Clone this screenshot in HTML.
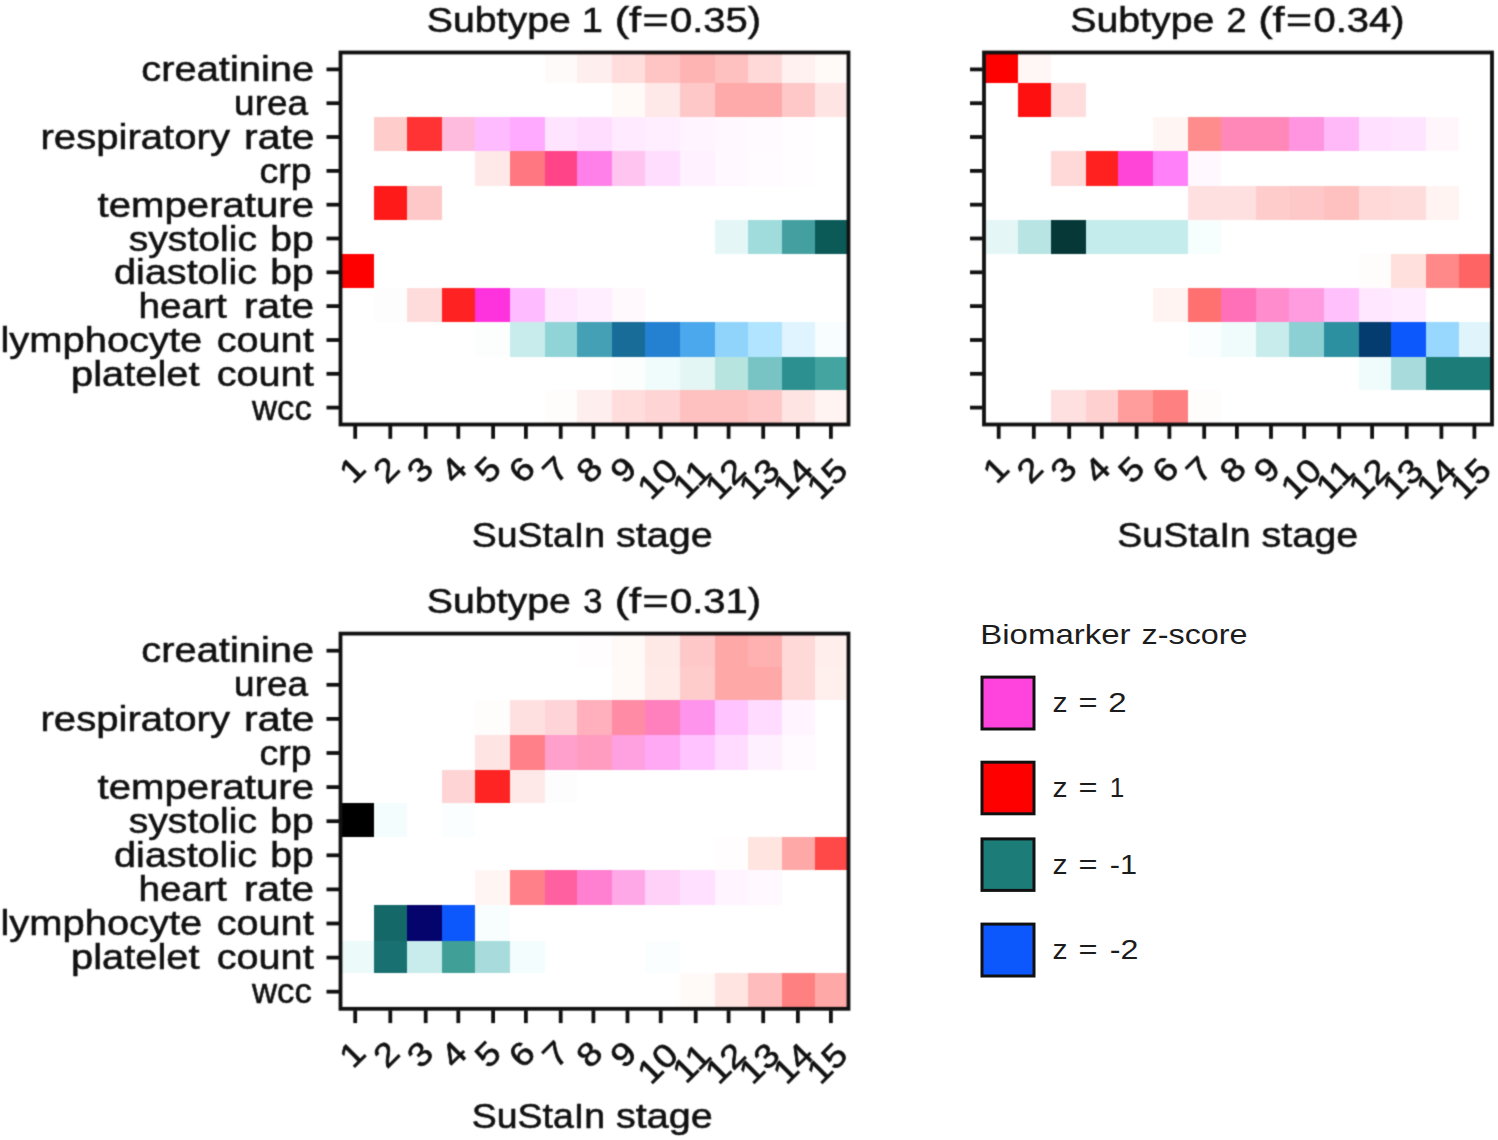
<!DOCTYPE html>
<html><head><meta charset="utf-8"><title>SuStaIn subtypes</title>
<style>
html,body{margin:0;padding:0;background:#fff;}
body{width:1498px;height:1140px;overflow:hidden;}
svg{display:block;}
svg text{font-family:"Liberation Sans",sans-serif;fill:#111;white-space:pre;}
svg text.m{stroke:#111;stroke-width:0.55px;}
svg text.t{stroke:#111;stroke-width:0.7px;}
svg text.l{fill:#1c1c1c;}
</style></head><body>
<svg width="1498" height="1140" viewBox="0 0 1498 1140">
<defs><filter id="soft" x="0" y="0" width="1498" height="1140" filterUnits="userSpaceOnUse"><feConvolveMatrix order="3" kernelMatrix="0.0324 0.1152 0.0324 0.1152 0.4096 0.1152 0.0324 0.1152 0.0324" divisor="1" edgeMode="duplicate" preserveAlpha="true" color-interpolation-filters="sRGB"/></filter></defs>
<rect width="1498" height="1140" fill="#fff"/>
<g filter="url(#soft)">
<rect width="1498" height="1140" fill="#fff"/>
<g shape-rendering="crispEdges">
<rect x="544.5" y="52.5" width="32.5" height="30.5" fill="#fffafa"/>
<rect x="577.0" y="52.5" width="35.0" height="30.5" fill="#ffeeee"/>
<rect x="612.0" y="52.5" width="33.0" height="30.5" fill="#ffdddd"/>
<rect x="645.0" y="52.5" width="35.0" height="30.5" fill="#ffc4c4"/>
<rect x="680.0" y="52.5" width="35.0" height="30.5" fill="#ffb4b4"/>
<rect x="715.0" y="52.5" width="32.5" height="30.5" fill="#ffc0c0"/>
<rect x="747.5" y="52.5" width="34.5" height="30.5" fill="#ffd8d8"/>
<rect x="782.0" y="52.5" width="33.0" height="30.5" fill="#fff1ef"/>
<rect x="815.0" y="52.5" width="33.5" height="30.5" fill="#fff9f8"/>
<rect x="612.0" y="83.0" width="33.0" height="33.5" fill="#fffaf8"/>
<rect x="645.0" y="83.0" width="35.0" height="33.5" fill="#ffe8e8"/>
<rect x="680.0" y="83.0" width="35.0" height="33.5" fill="#ffc8c8"/>
<rect x="715.0" y="83.0" width="32.5" height="33.5" fill="#ffaaaa"/>
<rect x="747.5" y="83.0" width="34.5" height="33.5" fill="#ffaaaa"/>
<rect x="782.0" y="83.0" width="33.0" height="33.5" fill="#ffc8c8"/>
<rect x="815.0" y="83.0" width="33.5" height="33.5" fill="#ffe4e4"/>
<rect x="374.0" y="116.5" width="33.0" height="34.5" fill="#ffcccc"/>
<rect x="407.0" y="116.5" width="35.0" height="34.5" fill="#ff3333"/>
<rect x="442.0" y="116.5" width="32.5" height="34.5" fill="#ffbbdd"/>
<rect x="474.5" y="116.5" width="35.0" height="34.5" fill="#ffbbff"/>
<rect x="509.5" y="116.5" width="35.0" height="34.5" fill="#ffaaff"/>
<rect x="544.5" y="116.5" width="32.5" height="34.5" fill="#ffe4ff"/>
<rect x="577.0" y="116.5" width="35.0" height="34.5" fill="#ffddff"/>
<rect x="612.0" y="116.5" width="33.0" height="34.5" fill="#ffeaff"/>
<rect x="645.0" y="116.5" width="35.0" height="34.5" fill="#ffeeff"/>
<rect x="680.0" y="116.5" width="35.0" height="34.5" fill="#fff4ff"/>
<rect x="715.0" y="116.5" width="32.5" height="34.5" fill="#fff8ff"/>
<rect x="747.5" y="116.5" width="34.5" height="34.5" fill="#fffaff"/>
<rect x="782.0" y="116.5" width="33.0" height="34.5" fill="#fffdff"/>
<rect x="474.5" y="151.0" width="35.0" height="35.0" fill="#ffe8e8"/>
<rect x="509.5" y="151.0" width="35.0" height="35.0" fill="#ff7780"/>
<rect x="544.5" y="151.0" width="32.5" height="35.0" fill="#ff4488"/>
<rect x="577.0" y="151.0" width="35.0" height="35.0" fill="#ff80e8"/>
<rect x="612.0" y="151.0" width="33.0" height="35.0" fill="#ffc4f0"/>
<rect x="645.0" y="151.0" width="35.0" height="35.0" fill="#ffddff"/>
<rect x="680.0" y="151.0" width="35.0" height="35.0" fill="#fff1ff"/>
<rect x="715.0" y="151.0" width="32.5" height="35.0" fill="#fff8ff"/>
<rect x="747.5" y="151.0" width="34.5" height="35.0" fill="#fffbff"/>
<rect x="782.0" y="151.0" width="33.0" height="35.0" fill="#fffdff"/>
<rect x="374.0" y="186.0" width="33.0" height="33.5" fill="#ff1a1a"/>
<rect x="407.0" y="186.0" width="35.0" height="33.5" fill="#ffc8c8"/>
<rect x="715.0" y="219.5" width="32.5" height="34.5" fill="#e4f6f6"/>
<rect x="747.5" y="219.5" width="34.5" height="34.5" fill="#a0dcdc"/>
<rect x="782.0" y="219.5" width="33.0" height="34.5" fill="#44a0a0"/>
<rect x="815.0" y="219.5" width="33.5" height="34.5" fill="#0c5a58"/>
<rect x="340.5" y="254.0" width="33.5" height="33.5" fill="#ff0000"/>
<rect x="374.0" y="287.5" width="33.0" height="34.5" fill="#fdfdfd"/>
<rect x="407.0" y="287.5" width="35.0" height="34.5" fill="#ffdcdc"/>
<rect x="442.0" y="287.5" width="32.5" height="34.5" fill="#ff2222"/>
<rect x="474.5" y="287.5" width="35.0" height="34.5" fill="#ff33dd"/>
<rect x="509.5" y="287.5" width="35.0" height="34.5" fill="#ffbbff"/>
<rect x="544.5" y="287.5" width="32.5" height="34.5" fill="#ffe8ff"/>
<rect x="577.0" y="287.5" width="35.0" height="34.5" fill="#ffeeff"/>
<rect x="612.0" y="287.5" width="33.0" height="34.5" fill="#fff8fc"/>
<rect x="474.5" y="322.0" width="35.0" height="34.5" fill="#fcfefe"/>
<rect x="509.5" y="322.0" width="35.0" height="34.5" fill="#c8ecec"/>
<rect x="544.5" y="322.0" width="32.5" height="34.5" fill="#90d4d8"/>
<rect x="577.0" y="322.0" width="35.0" height="34.5" fill="#44a0b4"/>
<rect x="612.0" y="322.0" width="33.0" height="34.5" fill="#186c98"/>
<rect x="645.0" y="322.0" width="35.0" height="34.5" fill="#2480d0"/>
<rect x="680.0" y="322.0" width="35.0" height="34.5" fill="#4ca8ec"/>
<rect x="715.0" y="322.0" width="32.5" height="34.5" fill="#90d4fc"/>
<rect x="747.5" y="322.0" width="34.5" height="34.5" fill="#b0e4ff"/>
<rect x="782.0" y="322.0" width="33.0" height="34.5" fill="#e0f4ff"/>
<rect x="815.0" y="322.0" width="33.5" height="34.5" fill="#f8fdff"/>
<rect x="612.0" y="356.5" width="33.0" height="33.0" fill="#fcfefe"/>
<rect x="645.0" y="356.5" width="35.0" height="33.0" fill="#f0fbfb"/>
<rect x="680.0" y="356.5" width="35.0" height="33.0" fill="#e4f6f4"/>
<rect x="715.0" y="356.5" width="32.5" height="33.0" fill="#b8e4e0"/>
<rect x="747.5" y="356.5" width="34.5" height="33.0" fill="#78c4c4"/>
<rect x="782.0" y="356.5" width="33.0" height="33.0" fill="#2c9090"/>
<rect x="815.0" y="356.5" width="33.5" height="33.0" fill="#44a4a0"/>
<rect x="544.5" y="389.5" width="32.5" height="35.0" fill="#fffcfc"/>
<rect x="577.0" y="389.5" width="35.0" height="35.0" fill="#ffeeee"/>
<rect x="612.0" y="389.5" width="33.0" height="35.0" fill="#ffdddd"/>
<rect x="645.0" y="389.5" width="35.0" height="35.0" fill="#ffd4d4"/>
<rect x="680.0" y="389.5" width="35.0" height="35.0" fill="#ffc0c0"/>
<rect x="715.0" y="389.5" width="32.5" height="35.0" fill="#ffc0c0"/>
<rect x="747.5" y="389.5" width="34.5" height="35.0" fill="#ffc8c8"/>
<rect x="782.0" y="389.5" width="33.0" height="35.0" fill="#ffe4e4"/>
<rect x="815.0" y="389.5" width="33.5" height="35.0" fill="#fff4f2"/>
</g>
<rect x="340.5" y="52.5" width="508" height="372.0" fill="none" stroke="#111" stroke-width="3.8"/>
<line x1="326.5" x2="339.0" y1="69.4" y2="69.4" stroke="#111" stroke-width="3.8"/>
<text class="m" x="141.29" y="81.4" font-size="35" textLength="172.87" lengthAdjust="spacingAndGlyphs">creatinine</text>
<line x1="326.5" x2="339.0" y1="103.2" y2="103.2" stroke="#111" stroke-width="3.8"/>
<text class="m" x="234.12" y="115.2" font-size="35" textLength="74.00" lengthAdjust="spacingAndGlyphs">urea</text>
<line x1="326.5" x2="339.0" y1="137.0" y2="137.0" stroke="#111" stroke-width="3.8"/>
<text class="m" x="40.48" y="149.0" font-size="35" textLength="189.51" lengthAdjust="spacingAndGlyphs">respiratory</text><text class="m" x="244.02" y="149.0" font-size="35" textLength="70.50" lengthAdjust="spacingAndGlyphs">rate</text>
<line x1="326.5" x2="339.0" y1="170.9" y2="170.9" stroke="#111" stroke-width="3.8"/>
<text class="m" x="259.49" y="182.9" font-size="35" textLength="52.11" lengthAdjust="spacingAndGlyphs">crp</text>
<line x1="326.5" x2="339.0" y1="204.7" y2="204.7" stroke="#111" stroke-width="3.8"/>
<text class="m" x="97.53" y="216.7" font-size="35" textLength="216.59" lengthAdjust="spacingAndGlyphs">temperature</text>
<line x1="326.5" x2="339.0" y1="238.5" y2="238.5" stroke="#111" stroke-width="3.8"/>
<text class="m" x="128.78" y="250.5" font-size="35" textLength="128.18" lengthAdjust="spacingAndGlyphs">systolic</text><text class="m" x="270.39" y="250.5" font-size="35" textLength="43.51" lengthAdjust="spacingAndGlyphs">bp</text>
<line x1="326.5" x2="339.0" y1="272.3" y2="272.3" stroke="#111" stroke-width="3.8"/>
<text class="m" x="114.11" y="284.3" font-size="35" textLength="142.82" lengthAdjust="spacingAndGlyphs">diastolic</text><text class="m" x="270.39" y="284.3" font-size="35" textLength="43.51" lengthAdjust="spacingAndGlyphs">bp</text>
<line x1="326.5" x2="339.0" y1="306.1" y2="306.1" stroke="#111" stroke-width="3.8"/>
<text class="m" x="138.57" y="318.1" font-size="35" textLength="88.23" lengthAdjust="spacingAndGlyphs">heart</text><text class="m" x="244.04" y="318.1" font-size="35" textLength="70.07" lengthAdjust="spacingAndGlyphs">rate</text>
<line x1="326.5" x2="339.0" y1="340.0" y2="340.0" stroke="#111" stroke-width="3.8"/>
<text class="m" x="0.49" y="352.0" font-size="35" textLength="201.78" lengthAdjust="spacingAndGlyphs">lymphocyte</text><text class="m" x="216.70" y="352.0" font-size="35" textLength="96.98" lengthAdjust="spacingAndGlyphs">count</text>
<line x1="326.5" x2="339.0" y1="373.8" y2="373.8" stroke="#111" stroke-width="3.8"/>
<text class="m" x="71.04" y="385.8" font-size="35" textLength="128.43" lengthAdjust="spacingAndGlyphs">platelet</text><text class="m" x="216.70" y="385.8" font-size="35" textLength="96.98" lengthAdjust="spacingAndGlyphs">count</text>
<line x1="326.5" x2="339.0" y1="407.6" y2="407.6" stroke="#111" stroke-width="3.8"/>
<text class="m" x="252.00" y="419.6" font-size="35" textLength="59.79" lengthAdjust="spacingAndGlyphs">wcc</text>
<line x1="355.2" x2="355.2" y1="426.0" y2="438.8" stroke="#111" stroke-width="3.8"/>
<text class="t" transform="translate(351.9,469.5) rotate(-45) scale(1.12,1)" text-anchor="middle" y="11.8" font-size="33">1</text>
<line x1="390.3" x2="390.3" y1="426.0" y2="438.8" stroke="#111" stroke-width="3.8"/>
<text class="t" transform="translate(385.8,469.5) rotate(-45) scale(1.12,1)" text-anchor="middle" y="11.8" font-size="33">2</text>
<line x1="425.7" x2="425.7" y1="426.0" y2="438.8" stroke="#111" stroke-width="3.8"/>
<text class="t" transform="translate(419.7,469.5) rotate(-45) scale(1.12,1)" text-anchor="middle" y="11.8" font-size="33">3</text>
<line x1="458.3" x2="458.3" y1="426.0" y2="438.8" stroke="#111" stroke-width="3.8"/>
<text class="t" transform="translate(453.5,469.5) rotate(-45) scale(1.12,1)" text-anchor="middle" y="11.8" font-size="33">4</text>
<line x1="493.1" x2="493.1" y1="426.0" y2="438.8" stroke="#111" stroke-width="3.8"/>
<text class="t" transform="translate(487.4,469.5) rotate(-45) scale(1.12,1)" text-anchor="middle" y="11.8" font-size="33">5</text>
<line x1="525.9" x2="525.9" y1="426.0" y2="438.8" stroke="#111" stroke-width="3.8"/>
<text class="t" transform="translate(521.3,469.5) rotate(-45) scale(1.12,1)" text-anchor="middle" y="11.8" font-size="33">6</text>
<line x1="560.7" x2="560.7" y1="426.0" y2="438.8" stroke="#111" stroke-width="3.8"/>
<text class="t" transform="translate(555.1,469.5) rotate(-45) scale(1.12,1)" text-anchor="middle" y="11.8" font-size="33">7</text>
<line x1="593.4" x2="593.4" y1="426.0" y2="438.8" stroke="#111" stroke-width="3.8"/>
<text class="t" transform="translate(589.0,469.5) rotate(-45) scale(1.12,1)" text-anchor="middle" y="11.8" font-size="33">8</text>
<line x1="627.5" x2="627.5" y1="426.0" y2="438.8" stroke="#111" stroke-width="3.8"/>
<text class="t" transform="translate(622.9,469.5) rotate(-45) scale(1.12,1)" text-anchor="middle" y="11.8" font-size="33">9</text>
<line x1="660.7" x2="660.7" y1="426.0" y2="438.8" stroke="#111" stroke-width="3.8"/>
<text class="t" transform="translate(657.2,478.5) rotate(-45) scale(1.12,1)" text-anchor="middle" y="11.8" font-size="33">10</text>
<line x1="695.7" x2="695.7" y1="426.0" y2="438.8" stroke="#111" stroke-width="3.8"/>
<text class="t" transform="translate(691.1,478.5) rotate(-45) scale(1.12,1)" text-anchor="middle" y="11.8" font-size="33">11</text>
<line x1="728.6" x2="728.6" y1="426.0" y2="438.8" stroke="#111" stroke-width="3.8"/>
<text class="t" transform="translate(725.0,478.5) rotate(-45) scale(1.12,1)" text-anchor="middle" y="11.8" font-size="33">12</text>
<line x1="763.2" x2="763.2" y1="426.0" y2="438.8" stroke="#111" stroke-width="3.8"/>
<text class="t" transform="translate(758.8,478.5) rotate(-45) scale(1.12,1)" text-anchor="middle" y="11.8" font-size="33">13</text>
<line x1="797.9" x2="797.9" y1="426.0" y2="438.8" stroke="#111" stroke-width="3.8"/>
<text class="t" transform="translate(792.7,478.5) rotate(-45) scale(1.12,1)" text-anchor="middle" y="11.8" font-size="33">14</text>
<line x1="830.9" x2="830.9" y1="426.0" y2="438.8" stroke="#111" stroke-width="3.8"/>
<text class="t" transform="translate(826.6,478.5) rotate(-45) scale(1.12,1)" text-anchor="middle" y="11.8" font-size="33">15</text>
<text class="m" x="426.68" y="31.5" font-size="35" textLength="144.17" lengthAdjust="spacingAndGlyphs">Subtype</text><text class="m" x="581.85" y="31.5" font-size="35" textLength="21.11" lengthAdjust="spacingAndGlyphs">1</text><text class="m" x="614.66" y="31.5" font-size="35" textLength="26.55" lengthAdjust="spacingAndGlyphs">(f</text><text class="m" x="642.57" y="31.5" font-size="35" textLength="26.09" lengthAdjust="spacingAndGlyphs">=</text><text class="m" x="669.93" y="31.5" font-size="35" textLength="91.13" lengthAdjust="spacingAndGlyphs">0.35)</text>
<text class="m" x="471.76" y="547.3" font-size="35" textLength="133.35" lengthAdjust="spacingAndGlyphs">SuStaIn</text><text class="m" x="615.97" y="547.3" font-size="35" textLength="96.76" lengthAdjust="spacingAndGlyphs">stage</text>
<g shape-rendering="crispEdges">
<rect x="984.0" y="52.5" width="33.5" height="30.5" fill="#ff0000"/>
<rect x="1017.5" y="52.5" width="33.0" height="30.5" fill="#fff7f5"/>
<rect x="1017.5" y="83.0" width="33.0" height="33.5" fill="#ff1010"/>
<rect x="1050.5" y="83.0" width="35.0" height="33.5" fill="#ffdddd"/>
<rect x="1153.0" y="116.5" width="35.0" height="34.5" fill="#fff6f4"/>
<rect x="1188.0" y="116.5" width="32.5" height="34.5" fill="#ff8c8c"/>
<rect x="1220.5" y="116.5" width="35.0" height="34.5" fill="#ff88b8"/>
<rect x="1255.5" y="116.5" width="33.0" height="34.5" fill="#ff88b8"/>
<rect x="1288.5" y="116.5" width="35.0" height="34.5" fill="#ff94e0"/>
<rect x="1323.5" y="116.5" width="35.0" height="34.5" fill="#ffb8f8"/>
<rect x="1358.5" y="116.5" width="32.5" height="34.5" fill="#ffe0ff"/>
<rect x="1391.0" y="116.5" width="34.5" height="34.5" fill="#ffe4ff"/>
<rect x="1425.5" y="116.5" width="33.0" height="34.5" fill="#fff6fc"/>
<rect x="1050.5" y="151.0" width="35.0" height="35.0" fill="#ffd8d8"/>
<rect x="1085.5" y="151.0" width="32.5" height="35.0" fill="#ff2020"/>
<rect x="1118.0" y="151.0" width="35.0" height="35.0" fill="#ff44d8"/>
<rect x="1153.0" y="151.0" width="35.0" height="35.0" fill="#ff80f8"/>
<rect x="1188.0" y="151.0" width="32.5" height="35.0" fill="#fff8ff"/>
<rect x="1188.0" y="186.0" width="32.5" height="33.5" fill="#ffe0e0"/>
<rect x="1220.5" y="186.0" width="35.0" height="33.5" fill="#ffe0e0"/>
<rect x="1255.5" y="186.0" width="33.0" height="33.5" fill="#ffcccc"/>
<rect x="1288.5" y="186.0" width="35.0" height="33.5" fill="#ffc8c8"/>
<rect x="1323.5" y="186.0" width="35.0" height="33.5" fill="#ffc0c0"/>
<rect x="1358.5" y="186.0" width="32.5" height="33.5" fill="#ffd8d8"/>
<rect x="1391.0" y="186.0" width="34.5" height="33.5" fill="#ffdcdc"/>
<rect x="1425.5" y="186.0" width="33.0" height="33.5" fill="#fff4f2"/>
<rect x="984.0" y="219.5" width="33.5" height="34.5" fill="#e4f6f6"/>
<rect x="1017.5" y="219.5" width="33.0" height="34.5" fill="#b8e4e4"/>
<rect x="1050.5" y="219.5" width="35.0" height="34.5" fill="#063838"/>
<rect x="1085.5" y="219.5" width="32.5" height="34.5" fill="#c4ecec"/>
<rect x="1118.0" y="219.5" width="35.0" height="34.5" fill="#c4ecec"/>
<rect x="1153.0" y="219.5" width="35.0" height="34.5" fill="#c4ecec"/>
<rect x="1188.0" y="219.5" width="32.5" height="34.5" fill="#f6fefe"/>
<rect x="1358.5" y="254.0" width="32.5" height="33.5" fill="#fffcfc"/>
<rect x="1391.0" y="254.0" width="34.5" height="33.5" fill="#ffe0dc"/>
<rect x="1425.5" y="254.0" width="33.0" height="33.5" fill="#ff8888"/>
<rect x="1458.5" y="254.0" width="33.5" height="33.5" fill="#ff6464"/>
<rect x="1153.0" y="287.5" width="35.0" height="34.5" fill="#fff4f2"/>
<rect x="1188.0" y="287.5" width="32.5" height="34.5" fill="#ff7070"/>
<rect x="1220.5" y="287.5" width="35.0" height="34.5" fill="#ff70b8"/>
<rect x="1255.5" y="287.5" width="33.0" height="34.5" fill="#ff8ccc"/>
<rect x="1288.5" y="287.5" width="35.0" height="34.5" fill="#ff9ce0"/>
<rect x="1323.5" y="287.5" width="35.0" height="34.5" fill="#ffc0fc"/>
<rect x="1358.5" y="287.5" width="32.5" height="34.5" fill="#ffe8ff"/>
<rect x="1391.0" y="287.5" width="34.5" height="34.5" fill="#ffecff"/>
<rect x="1188.0" y="322.0" width="32.5" height="34.5" fill="#fafefe"/>
<rect x="1220.5" y="322.0" width="35.0" height="34.5" fill="#f0fcfc"/>
<rect x="1255.5" y="322.0" width="33.0" height="34.5" fill="#c8ecec"/>
<rect x="1288.5" y="322.0" width="35.0" height="34.5" fill="#8cd0d4"/>
<rect x="1323.5" y="322.0" width="35.0" height="34.5" fill="#2c90a0"/>
<rect x="1358.5" y="322.0" width="32.5" height="34.5" fill="#043c70"/>
<rect x="1391.0" y="322.0" width="34.5" height="34.5" fill="#0c58fc"/>
<rect x="1425.5" y="322.0" width="33.0" height="34.5" fill="#98d8ff"/>
<rect x="1458.5" y="322.0" width="33.5" height="34.5" fill="#e0f4fc"/>
<rect x="1358.5" y="356.5" width="32.5" height="33.0" fill="#f0fbfb"/>
<rect x="1391.0" y="356.5" width="34.5" height="33.0" fill="#a8dcdc"/>
<rect x="1425.5" y="356.5" width="33.0" height="33.0" fill="#1c7c78"/>
<rect x="1458.5" y="356.5" width="33.5" height="33.0" fill="#1c7c78"/>
<rect x="1050.5" y="389.5" width="35.0" height="35.0" fill="#ffe0e0"/>
<rect x="1085.5" y="389.5" width="32.5" height="35.0" fill="#ffd0d0"/>
<rect x="1118.0" y="389.5" width="35.0" height="35.0" fill="#ff9c9c"/>
<rect x="1153.0" y="389.5" width="35.0" height="35.0" fill="#ff8080"/>
<rect x="1188.0" y="389.5" width="32.5" height="35.0" fill="#fffcfc"/>
</g>
<rect x="984.0" y="52.5" width="508" height="372.0" fill="none" stroke="#111" stroke-width="3.8"/>
<line x1="970.0" x2="982.5" y1="69.4" y2="69.4" stroke="#111" stroke-width="3.8"/>
<line x1="970.0" x2="982.5" y1="103.2" y2="103.2" stroke="#111" stroke-width="3.8"/>
<line x1="970.0" x2="982.5" y1="137.0" y2="137.0" stroke="#111" stroke-width="3.8"/>
<line x1="970.0" x2="982.5" y1="170.9" y2="170.9" stroke="#111" stroke-width="3.8"/>
<line x1="970.0" x2="982.5" y1="204.7" y2="204.7" stroke="#111" stroke-width="3.8"/>
<line x1="970.0" x2="982.5" y1="238.5" y2="238.5" stroke="#111" stroke-width="3.8"/>
<line x1="970.0" x2="982.5" y1="272.3" y2="272.3" stroke="#111" stroke-width="3.8"/>
<line x1="970.0" x2="982.5" y1="306.1" y2="306.1" stroke="#111" stroke-width="3.8"/>
<line x1="970.0" x2="982.5" y1="340.0" y2="340.0" stroke="#111" stroke-width="3.8"/>
<line x1="970.0" x2="982.5" y1="373.8" y2="373.8" stroke="#111" stroke-width="3.8"/>
<line x1="970.0" x2="982.5" y1="407.6" y2="407.6" stroke="#111" stroke-width="3.8"/>
<line x1="998.7" x2="998.7" y1="426.0" y2="438.8" stroke="#111" stroke-width="3.8"/>
<text class="t" transform="translate(995.4,469.5) rotate(-45) scale(1.12,1)" text-anchor="middle" y="11.8" font-size="33">1</text>
<line x1="1033.8" x2="1033.8" y1="426.0" y2="438.8" stroke="#111" stroke-width="3.8"/>
<text class="t" transform="translate(1029.3,469.5) rotate(-45) scale(1.12,1)" text-anchor="middle" y="11.8" font-size="33">2</text>
<line x1="1069.2" x2="1069.2" y1="426.0" y2="438.8" stroke="#111" stroke-width="3.8"/>
<text class="t" transform="translate(1063.2,469.5) rotate(-45) scale(1.12,1)" text-anchor="middle" y="11.8" font-size="33">3</text>
<line x1="1101.8" x2="1101.8" y1="426.0" y2="438.8" stroke="#111" stroke-width="3.8"/>
<text class="t" transform="translate(1097.0,469.5) rotate(-45) scale(1.12,1)" text-anchor="middle" y="11.8" font-size="33">4</text>
<line x1="1136.6" x2="1136.6" y1="426.0" y2="438.8" stroke="#111" stroke-width="3.8"/>
<text class="t" transform="translate(1130.9,469.5) rotate(-45) scale(1.12,1)" text-anchor="middle" y="11.8" font-size="33">5</text>
<line x1="1169.4" x2="1169.4" y1="426.0" y2="438.8" stroke="#111" stroke-width="3.8"/>
<text class="t" transform="translate(1164.8,469.5) rotate(-45) scale(1.12,1)" text-anchor="middle" y="11.8" font-size="33">6</text>
<line x1="1204.2" x2="1204.2" y1="426.0" y2="438.8" stroke="#111" stroke-width="3.8"/>
<text class="t" transform="translate(1198.6,469.5) rotate(-45) scale(1.12,1)" text-anchor="middle" y="11.8" font-size="33">7</text>
<line x1="1236.9" x2="1236.9" y1="426.0" y2="438.8" stroke="#111" stroke-width="3.8"/>
<text class="t" transform="translate(1232.5,469.5) rotate(-45) scale(1.12,1)" text-anchor="middle" y="11.8" font-size="33">8</text>
<line x1="1271.0" x2="1271.0" y1="426.0" y2="438.8" stroke="#111" stroke-width="3.8"/>
<text class="t" transform="translate(1266.4,469.5) rotate(-45) scale(1.12,1)" text-anchor="middle" y="11.8" font-size="33">9</text>
<line x1="1304.2" x2="1304.2" y1="426.0" y2="438.8" stroke="#111" stroke-width="3.8"/>
<text class="t" transform="translate(1300.7,478.5) rotate(-45) scale(1.12,1)" text-anchor="middle" y="11.8" font-size="33">10</text>
<line x1="1339.2" x2="1339.2" y1="426.0" y2="438.8" stroke="#111" stroke-width="3.8"/>
<text class="t" transform="translate(1334.6,478.5) rotate(-45) scale(1.12,1)" text-anchor="middle" y="11.8" font-size="33">11</text>
<line x1="1372.1" x2="1372.1" y1="426.0" y2="438.8" stroke="#111" stroke-width="3.8"/>
<text class="t" transform="translate(1368.5,478.5) rotate(-45) scale(1.12,1)" text-anchor="middle" y="11.8" font-size="33">12</text>
<line x1="1406.7" x2="1406.7" y1="426.0" y2="438.8" stroke="#111" stroke-width="3.8"/>
<text class="t" transform="translate(1402.3,478.5) rotate(-45) scale(1.12,1)" text-anchor="middle" y="11.8" font-size="33">13</text>
<line x1="1441.4" x2="1441.4" y1="426.0" y2="438.8" stroke="#111" stroke-width="3.8"/>
<text class="t" transform="translate(1436.2,478.5) rotate(-45) scale(1.12,1)" text-anchor="middle" y="11.8" font-size="33">14</text>
<line x1="1474.4" x2="1474.4" y1="426.0" y2="438.8" stroke="#111" stroke-width="3.8"/>
<text class="t" transform="translate(1470.1,478.5) rotate(-45) scale(1.12,1)" text-anchor="middle" y="11.8" font-size="33">15</text>
<text class="m" x="1070.18" y="31.5" font-size="35" textLength="144.17" lengthAdjust="spacingAndGlyphs">Subtype</text><text class="m" x="1226.41" y="31.5" font-size="35" textLength="19.95" lengthAdjust="spacingAndGlyphs">2</text><text class="m" x="1258.16" y="31.5" font-size="35" textLength="26.55" lengthAdjust="spacingAndGlyphs">(f</text><text class="m" x="1286.07" y="31.5" font-size="35" textLength="26.09" lengthAdjust="spacingAndGlyphs">=</text><text class="m" x="1313.43" y="31.5" font-size="35" textLength="91.13" lengthAdjust="spacingAndGlyphs">0.34)</text>
<text class="m" x="1117.36" y="547.3" font-size="35" textLength="133.35" lengthAdjust="spacingAndGlyphs">SuStaIn</text><text class="m" x="1261.57" y="547.3" font-size="35" textLength="96.76" lengthAdjust="spacingAndGlyphs">stage</text>
<g shape-rendering="crispEdges">
<rect x="577.0" y="633.6" width="35.0" height="33.5" fill="#fffdfd"/>
<rect x="612.0" y="633.6" width="33.0" height="33.5" fill="#fff9f7"/>
<rect x="645.0" y="633.6" width="35.0" height="33.5" fill="#ffe9e7"/>
<rect x="680.0" y="633.6" width="35.0" height="33.5" fill="#ffc8c8"/>
<rect x="715.0" y="633.6" width="32.5" height="33.5" fill="#ffa8a8"/>
<rect x="747.5" y="633.6" width="34.5" height="33.5" fill="#ffb0b0"/>
<rect x="782.0" y="633.6" width="33.0" height="33.5" fill="#ffd8d8"/>
<rect x="815.0" y="633.6" width="33.5" height="33.5" fill="#ffeeec"/>
<rect x="612.0" y="667.1" width="33.0" height="32.8" fill="#fffaf8"/>
<rect x="645.0" y="667.1" width="35.0" height="32.8" fill="#ffeae8"/>
<rect x="680.0" y="667.1" width="35.0" height="32.8" fill="#ffcccc"/>
<rect x="715.0" y="667.1" width="32.5" height="32.8" fill="#ffa8a8"/>
<rect x="747.5" y="667.1" width="34.5" height="32.8" fill="#ffa8a8"/>
<rect x="782.0" y="667.1" width="33.0" height="32.8" fill="#ffd8d8"/>
<rect x="815.0" y="667.1" width="33.5" height="32.8" fill="#fff0ee"/>
<rect x="474.5" y="699.9" width="35.0" height="35.3" fill="#fffcfc"/>
<rect x="509.5" y="699.9" width="35.0" height="35.3" fill="#ffe0e0"/>
<rect x="544.5" y="699.9" width="32.5" height="35.3" fill="#ffd4d8"/>
<rect x="577.0" y="699.9" width="35.0" height="35.3" fill="#ffb0bc"/>
<rect x="612.0" y="699.9" width="33.0" height="35.3" fill="#ff8ca4"/>
<rect x="645.0" y="699.9" width="35.0" height="35.3" fill="#ff80bc"/>
<rect x="680.0" y="699.9" width="35.0" height="35.3" fill="#ff94ec"/>
<rect x="715.0" y="699.9" width="32.5" height="35.3" fill="#ffc4ff"/>
<rect x="747.5" y="699.9" width="34.5" height="35.3" fill="#ffdcff"/>
<rect x="782.0" y="699.9" width="33.0" height="35.3" fill="#fff4ff"/>
<rect x="474.5" y="735.2" width="35.0" height="34.6" fill="#ffe4e4"/>
<rect x="509.5" y="735.2" width="35.0" height="34.6" fill="#ff8088"/>
<rect x="544.5" y="735.2" width="32.5" height="34.6" fill="#ffa0cc"/>
<rect x="577.0" y="735.2" width="35.0" height="34.6" fill="#ff9cc0"/>
<rect x="612.0" y="735.2" width="33.0" height="34.6" fill="#ffa0e0"/>
<rect x="645.0" y="735.2" width="35.0" height="34.6" fill="#ffa8f4"/>
<rect x="680.0" y="735.2" width="35.0" height="34.6" fill="#ffc4ff"/>
<rect x="715.0" y="735.2" width="32.5" height="34.6" fill="#ffdcff"/>
<rect x="747.5" y="735.2" width="34.5" height="34.6" fill="#fff0ff"/>
<rect x="782.0" y="735.2" width="33.0" height="34.6" fill="#fffaff"/>
<rect x="442.0" y="769.8" width="32.5" height="32.8" fill="#ffd4d4"/>
<rect x="474.5" y="769.8" width="35.0" height="32.8" fill="#ff2424"/>
<rect x="509.5" y="769.8" width="35.0" height="32.8" fill="#ffe8e8"/>
<rect x="544.5" y="769.8" width="32.5" height="32.8" fill="#fdfdfd"/>
<rect x="340.5" y="802.6" width="33.5" height="34.8" fill="#000000"/>
<rect x="374.0" y="802.6" width="33.0" height="34.8" fill="#f4fdfd"/>
<rect x="442.0" y="802.6" width="32.5" height="34.8" fill="#fafefe"/>
<rect x="715.0" y="837.4" width="32.5" height="32.9" fill="#fffdfd"/>
<rect x="747.5" y="837.4" width="34.5" height="32.9" fill="#ffe4e0"/>
<rect x="782.0" y="837.4" width="33.0" height="32.9" fill="#ffa8a8"/>
<rect x="815.0" y="837.4" width="33.5" height="32.9" fill="#ff4848"/>
<rect x="474.5" y="870.3" width="35.0" height="34.9" fill="#fff6f4"/>
<rect x="509.5" y="870.3" width="35.0" height="34.9" fill="#ff8088"/>
<rect x="544.5" y="870.3" width="32.5" height="34.9" fill="#ff60a0"/>
<rect x="577.0" y="870.3" width="35.0" height="34.9" fill="#ff80d0"/>
<rect x="612.0" y="870.3" width="33.0" height="34.9" fill="#ffa8e8"/>
<rect x="645.0" y="870.3" width="35.0" height="34.9" fill="#ffd0f8"/>
<rect x="680.0" y="870.3" width="35.0" height="34.9" fill="#ffe0ff"/>
<rect x="715.0" y="870.3" width="32.5" height="34.9" fill="#fff4ff"/>
<rect x="747.5" y="870.3" width="34.5" height="34.9" fill="#fff8ff"/>
<rect x="374.0" y="905.2" width="33.0" height="35.3" fill="#146868"/>
<rect x="407.0" y="905.2" width="35.0" height="35.3" fill="#04046c"/>
<rect x="442.0" y="905.2" width="32.5" height="35.3" fill="#0c58fc"/>
<rect x="474.5" y="905.2" width="35.0" height="35.3" fill="#f8fefe"/>
<rect x="340.5" y="940.5" width="33.5" height="32.8" fill="#ecfafa"/>
<rect x="374.0" y="940.5" width="33.0" height="32.8" fill="#187070"/>
<rect x="407.0" y="940.5" width="35.0" height="32.8" fill="#c8ecec"/>
<rect x="442.0" y="940.5" width="32.5" height="32.8" fill="#40a098"/>
<rect x="474.5" y="940.5" width="35.0" height="32.8" fill="#a8dcdc"/>
<rect x="509.5" y="940.5" width="35.0" height="32.8" fill="#f4fdfd"/>
<rect x="645.0" y="940.5" width="35.0" height="32.8" fill="#fafefe"/>
<rect x="680.0" y="973.3" width="35.0" height="35.5" fill="#fffaf8"/>
<rect x="715.0" y="973.3" width="32.5" height="35.5" fill="#ffe4e2"/>
<rect x="747.5" y="973.3" width="34.5" height="35.5" fill="#ffbcbc"/>
<rect x="782.0" y="973.3" width="33.0" height="35.5" fill="#ff8080"/>
<rect x="815.0" y="973.3" width="33.5" height="35.5" fill="#ffa8a8"/>
</g>
<rect x="340.5" y="633.6" width="508" height="375.2" fill="none" stroke="#111" stroke-width="3.8"/>
<line x1="326.5" x2="339.0" y1="650.7" y2="650.7" stroke="#111" stroke-width="3.8"/>
<text class="m" x="141.29" y="662.3" font-size="35" textLength="172.87" lengthAdjust="spacingAndGlyphs">creatinine</text>
<line x1="326.5" x2="339.0" y1="684.8" y2="684.8" stroke="#111" stroke-width="3.8"/>
<text class="m" x="234.12" y="696.4" font-size="35" textLength="74.00" lengthAdjust="spacingAndGlyphs">urea</text>
<line x1="326.5" x2="339.0" y1="718.9" y2="718.9" stroke="#111" stroke-width="3.8"/>
<text class="m" x="40.48" y="730.5" font-size="35" textLength="189.51" lengthAdjust="spacingAndGlyphs">respiratory</text><text class="m" x="244.02" y="730.5" font-size="35" textLength="70.50" lengthAdjust="spacingAndGlyphs">rate</text>
<line x1="326.5" x2="339.0" y1="753.0" y2="753.0" stroke="#111" stroke-width="3.8"/>
<text class="m" x="259.49" y="764.6" font-size="35" textLength="52.11" lengthAdjust="spacingAndGlyphs">crp</text>
<line x1="326.5" x2="339.0" y1="787.1" y2="787.1" stroke="#111" stroke-width="3.8"/>
<text class="m" x="97.53" y="798.7" font-size="35" textLength="216.59" lengthAdjust="spacingAndGlyphs">temperature</text>
<line x1="326.5" x2="339.0" y1="821.2" y2="821.2" stroke="#111" stroke-width="3.8"/>
<text class="m" x="128.78" y="832.8" font-size="35" textLength="128.18" lengthAdjust="spacingAndGlyphs">systolic</text><text class="m" x="270.39" y="832.8" font-size="35" textLength="43.51" lengthAdjust="spacingAndGlyphs">bp</text>
<line x1="326.5" x2="339.0" y1="855.3" y2="855.3" stroke="#111" stroke-width="3.8"/>
<text class="m" x="114.11" y="866.9" font-size="35" textLength="142.82" lengthAdjust="spacingAndGlyphs">diastolic</text><text class="m" x="270.39" y="866.9" font-size="35" textLength="43.51" lengthAdjust="spacingAndGlyphs">bp</text>
<line x1="326.5" x2="339.0" y1="889.4" y2="889.4" stroke="#111" stroke-width="3.8"/>
<text class="m" x="138.57" y="901.0" font-size="35" textLength="88.23" lengthAdjust="spacingAndGlyphs">heart</text><text class="m" x="244.04" y="901.0" font-size="35" textLength="70.07" lengthAdjust="spacingAndGlyphs">rate</text>
<line x1="326.5" x2="339.0" y1="923.5" y2="923.5" stroke="#111" stroke-width="3.8"/>
<text class="m" x="0.49" y="935.1" font-size="35" textLength="201.78" lengthAdjust="spacingAndGlyphs">lymphocyte</text><text class="m" x="216.70" y="935.1" font-size="35" textLength="96.98" lengthAdjust="spacingAndGlyphs">count</text>
<line x1="326.5" x2="339.0" y1="957.6" y2="957.6" stroke="#111" stroke-width="3.8"/>
<text class="m" x="71.04" y="969.2" font-size="35" textLength="128.43" lengthAdjust="spacingAndGlyphs">platelet</text><text class="m" x="216.70" y="969.2" font-size="35" textLength="96.98" lengthAdjust="spacingAndGlyphs">count</text>
<line x1="326.5" x2="339.0" y1="991.7" y2="991.7" stroke="#111" stroke-width="3.8"/>
<text class="m" x="252.00" y="1003.3" font-size="35" textLength="59.79" lengthAdjust="spacingAndGlyphs">wcc</text>
<line x1="355.2" x2="355.2" y1="1010.3" y2="1023.1" stroke="#111" stroke-width="3.8"/>
<text class="t" transform="translate(351.9,1053.8) rotate(-45) scale(1.12,1)" text-anchor="middle" y="11.8" font-size="33">1</text>
<line x1="390.3" x2="390.3" y1="1010.3" y2="1023.1" stroke="#111" stroke-width="3.8"/>
<text class="t" transform="translate(385.8,1053.8) rotate(-45) scale(1.12,1)" text-anchor="middle" y="11.8" font-size="33">2</text>
<line x1="425.7" x2="425.7" y1="1010.3" y2="1023.1" stroke="#111" stroke-width="3.8"/>
<text class="t" transform="translate(419.7,1053.8) rotate(-45) scale(1.12,1)" text-anchor="middle" y="11.8" font-size="33">3</text>
<line x1="458.3" x2="458.3" y1="1010.3" y2="1023.1" stroke="#111" stroke-width="3.8"/>
<text class="t" transform="translate(453.5,1053.8) rotate(-45) scale(1.12,1)" text-anchor="middle" y="11.8" font-size="33">4</text>
<line x1="493.1" x2="493.1" y1="1010.3" y2="1023.1" stroke="#111" stroke-width="3.8"/>
<text class="t" transform="translate(487.4,1053.8) rotate(-45) scale(1.12,1)" text-anchor="middle" y="11.8" font-size="33">5</text>
<line x1="525.9" x2="525.9" y1="1010.3" y2="1023.1" stroke="#111" stroke-width="3.8"/>
<text class="t" transform="translate(521.3,1053.8) rotate(-45) scale(1.12,1)" text-anchor="middle" y="11.8" font-size="33">6</text>
<line x1="560.7" x2="560.7" y1="1010.3" y2="1023.1" stroke="#111" stroke-width="3.8"/>
<text class="t" transform="translate(555.1,1053.8) rotate(-45) scale(1.12,1)" text-anchor="middle" y="11.8" font-size="33">7</text>
<line x1="593.4" x2="593.4" y1="1010.3" y2="1023.1" stroke="#111" stroke-width="3.8"/>
<text class="t" transform="translate(589.0,1053.8) rotate(-45) scale(1.12,1)" text-anchor="middle" y="11.8" font-size="33">8</text>
<line x1="627.5" x2="627.5" y1="1010.3" y2="1023.1" stroke="#111" stroke-width="3.8"/>
<text class="t" transform="translate(622.9,1053.8) rotate(-45) scale(1.12,1)" text-anchor="middle" y="11.8" font-size="33">9</text>
<line x1="660.7" x2="660.7" y1="1010.3" y2="1023.1" stroke="#111" stroke-width="3.8"/>
<text class="t" transform="translate(657.2,1062.8) rotate(-45) scale(1.12,1)" text-anchor="middle" y="11.8" font-size="33">10</text>
<line x1="695.7" x2="695.7" y1="1010.3" y2="1023.1" stroke="#111" stroke-width="3.8"/>
<text class="t" transform="translate(691.1,1062.8) rotate(-45) scale(1.12,1)" text-anchor="middle" y="11.8" font-size="33">11</text>
<line x1="728.6" x2="728.6" y1="1010.3" y2="1023.1" stroke="#111" stroke-width="3.8"/>
<text class="t" transform="translate(725.0,1062.8) rotate(-45) scale(1.12,1)" text-anchor="middle" y="11.8" font-size="33">12</text>
<line x1="763.2" x2="763.2" y1="1010.3" y2="1023.1" stroke="#111" stroke-width="3.8"/>
<text class="t" transform="translate(758.8,1062.8) rotate(-45) scale(1.12,1)" text-anchor="middle" y="11.8" font-size="33">13</text>
<line x1="797.9" x2="797.9" y1="1010.3" y2="1023.1" stroke="#111" stroke-width="3.8"/>
<text class="t" transform="translate(792.7,1062.8) rotate(-45) scale(1.12,1)" text-anchor="middle" y="11.8" font-size="33">14</text>
<line x1="830.9" x2="830.9" y1="1010.3" y2="1023.1" stroke="#111" stroke-width="3.8"/>
<text class="t" transform="translate(826.6,1062.8) rotate(-45) scale(1.12,1)" text-anchor="middle" y="11.8" font-size="33">15</text>
<text class="m" x="426.68" y="612.6" font-size="35" textLength="144.17" lengthAdjust="spacingAndGlyphs">Subtype</text><text class="m" x="583.34" y="612.6" font-size="35" textLength="19.20" lengthAdjust="spacingAndGlyphs">3</text><text class="m" x="614.66" y="612.6" font-size="35" textLength="26.55" lengthAdjust="spacingAndGlyphs">(f</text><text class="m" x="642.57" y="612.6" font-size="35" textLength="26.09" lengthAdjust="spacingAndGlyphs">=</text><text class="m" x="669.93" y="612.6" font-size="35" textLength="91.13" lengthAdjust="spacingAndGlyphs">0.31)</text>
<text class="m" x="471.76" y="1128.0" font-size="35" textLength="133.35" lengthAdjust="spacingAndGlyphs">SuStaIn</text><text class="m" x="615.97" y="1128.0" font-size="35" textLength="96.76" lengthAdjust="spacingAndGlyphs">stage</text>
</g>
<g>
<text class="l" x="980.25" y="644.3" font-size="28" textLength="150.29" lengthAdjust="spacingAndGlyphs">Biomarker</text><text class="l" x="1141.60" y="644.3" font-size="28" textLength="105.95" lengthAdjust="spacingAndGlyphs">z-score</text>
<rect x="982" y="677.1" width="52" height="51.9" fill="#ff44dd" stroke="#111" stroke-width="3"/>
<text class="l" x="1052.44" y="711.7" font-size="27" textLength="15.10" lengthAdjust="spacingAndGlyphs">z</text><text class="l" x="1078.49" y="711.7" font-size="27" textLength="19.04" lengthAdjust="spacingAndGlyphs">=</text><text class="l" x="1108.32" y="711.7" font-size="27" textLength="18.39" lengthAdjust="spacingAndGlyphs">2</text>
<rect x="982" y="762.2" width="52" height="51.6" fill="#ff0000" stroke="#111" stroke-width="3"/>
<text class="l" x="1052.44" y="797.0" font-size="27" textLength="15.10" lengthAdjust="spacingAndGlyphs">z</text><text class="l" x="1078.49" y="797.0" font-size="27" textLength="19.04" lengthAdjust="spacingAndGlyphs">=</text><text class="l" x="1109.86" y="797.0" font-size="27" textLength="14.57" lengthAdjust="spacingAndGlyphs">1</text>
<rect x="982" y="838.9" width="52" height="51.5" fill="#1c7c78" stroke="#111" stroke-width="3"/>
<text class="l" x="1052.44" y="873.8" font-size="27" textLength="15.10" lengthAdjust="spacingAndGlyphs">z</text><text class="l" x="1078.49" y="873.8" font-size="27" textLength="19.04" lengthAdjust="spacingAndGlyphs">=</text><text class="l" x="1109.82" y="873.8" font-size="27" textLength="27.31" lengthAdjust="spacingAndGlyphs">-1</text>
<rect x="982" y="924.1" width="52" height="51.9" fill="#0c58fc" stroke="#111" stroke-width="3"/>
<text class="l" x="1052.44" y="958.9" font-size="27" textLength="15.10" lengthAdjust="spacingAndGlyphs">z</text><text class="l" x="1078.49" y="958.9" font-size="27" textLength="19.04" lengthAdjust="spacingAndGlyphs">=</text><text class="l" x="1109.76" y="958.9" font-size="27" textLength="28.70" lengthAdjust="spacingAndGlyphs">-2</text>
</g>
</svg>
</body></html>
